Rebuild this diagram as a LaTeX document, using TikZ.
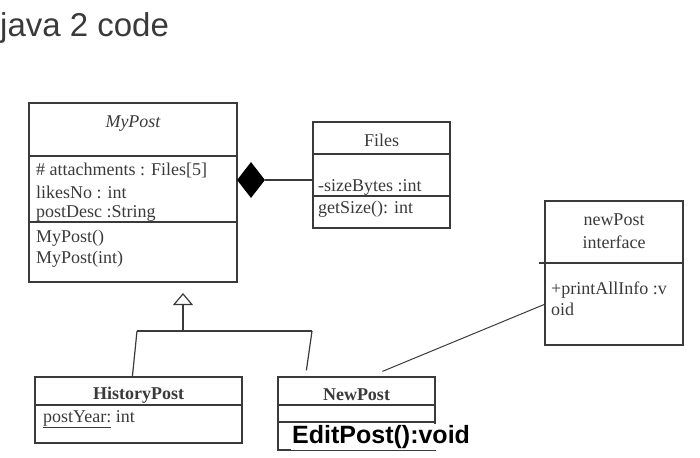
\documentclass[tikz,border=0pt]{standalone}
\usepackage{fontspec}
\setmainfont{Liberation Serif}
\newfontfamily\headfont{Liberation Sans}
\usetikzlibrary{shapes.geometric,arrows.meta,calc}
\definecolor{ink}{HTML}{3A3A3A}
\tikzset{
  umlbox/.style={rectangle, draw=ink, line width=1.2pt, inner sep=0pt},
  member/.style={anchor=west, inner sep=0pt, text=ink, font=\fontsize{18}{21}\selectfont},
  classname/.style={inner sep=0pt, text=ink, font=\fontsize{18}{21}\selectfont},
  rule/.style={draw=ink, line width=1.2pt}
}
\begin{document}
\begin{tikzpicture}[x=1pt, y=-1pt]
  \useasboundingbox (0,0) rectangle (700,457);
  \node (title) at (0, 28) [anchor=west, inner sep=0pt, text=ink, font=\headfont\fontsize{33}{38}\selectfont] {java 2 code};

  % MyPost
  \node[umlbox, minimum width=208pt, minimum height=179pt] (mypost) at (133, 192.5) {};
  \node (mypostname) at (133, 124) [classname, font=\itshape\fontsize{18}{21}\selectfont] {MyPost};
  \draw[rule] (mypost.west |- 0,156) -- (mypost.east |- 0,156);
  \draw[rule] (mypost.west |- 0,222) -- (mypost.east |- 0,222);
  \node (attach) at (36, 170) [member] {\# attachments : Files[5]};
  \node (likes) at (36, 192) [member] {likesNo : int};
  \node (desc) at (36, 213) [member] {postDesc :String};
  \node (ctor) at (36, 238) [member] {MyPost()};
  \node (ctorint) at (36, 259) [member] {MyPost(int)};

  % Files
  \node[umlbox, minimum width=137pt, minimum height=106pt] (files) at (381.5, 175) {};
  \node (filesname) at (381.5, 140) [classname] {Files};
  \draw[rule] (files.west |- 0,154) -- (files.east |- 0,154);
  \draw[rule] (files.west |- 0,196) -- (files.east |- 0,196);
  \node (size) at (318, 187) [member] {-sizeBytes :int};
  \node (getsize) at (318, 209) [member] {getSize(): int};

  \node[diamond, fill=black, minimum width=28pt, minimum height=36pt, inner sep=0pt] (comp) at (251, 180) {};
  \draw[rule] (comp.east) -- (files.west |- comp.east);

  % interface
  \node[umlbox, minimum width=138pt, minimum height=144pt] (iface) at (614, 273) {};
  \node (ifacename) at (614, 220) [classname] {newPost};
  \node (ifacekind) at (614, 242) [classname] {interface};
  \draw[rule] ($(iface.west |- 0,263)+(-5,0)$) -- (iface.east |- 0,263);
  \node (printinfo) at (551, 290) [member] {+printAllInfo :v};
  \node (printinfo2) at (551, 309) [member] {oid};

  % subclasses
  \node[umlbox, minimum width=207pt, minimum height=66pt] (history) at (138.5, 410) {};
  \node (historyname) at (138.5, 395) [classname, font=\bfseries\fontsize{18}{21}\selectfont] {HistoryPost};
  \draw[rule] (history.west |- 0,405) -- (history.east |- 0,405);
  \node (year) at (43, 419) [member] {\underline{postYear:} int};

  \node[umlbox, minimum width=157pt, minimum height=73pt] (newpost) at (356.5, 413.5) {};
  \node (newpostname) at (356.5, 395) [classname, font=\bfseries\fontsize{18}{21}\selectfont] {NewPost};
  \draw[rule] (newpost.west |- 0,405) -- (newpost.east |- 0,405);
  \draw[rule] (newpost.west |- 0,422) -- (newpost.east |- 0,422);
  \node (edit) at (291, 437) [anchor=west, inner sep=1pt, fill=white, font=\headfont\bfseries\fontsize{25}{29}\selectfont] {EditPost():void};

  % generalization
  \coordinate (gen) at (183, 293);
  \coordinate (hub) at (183, 331);
  \coordinate (hubleft) at (137, 331);
  \coordinate (hubright) at (312, 331);
  \draw[rule, -{Triangle[open, width=20pt, length=12pt, line width=1.2pt]}] (hub) -- (gen);
  \draw[rule] (hubleft) -- (hubright);
  \draw[rule] (hubleft) -- ($(history.north west)+(98,0)$);
  \draw[rule] (hubright) -- ($(newpost.north west)+(29,-6)$);

  \draw[rule, line width=1pt] ($(newpost.north west)+(105,-5)$) -- ($(iface.north west)+(0,104)$);
\end{tikzpicture}
\end{document}
